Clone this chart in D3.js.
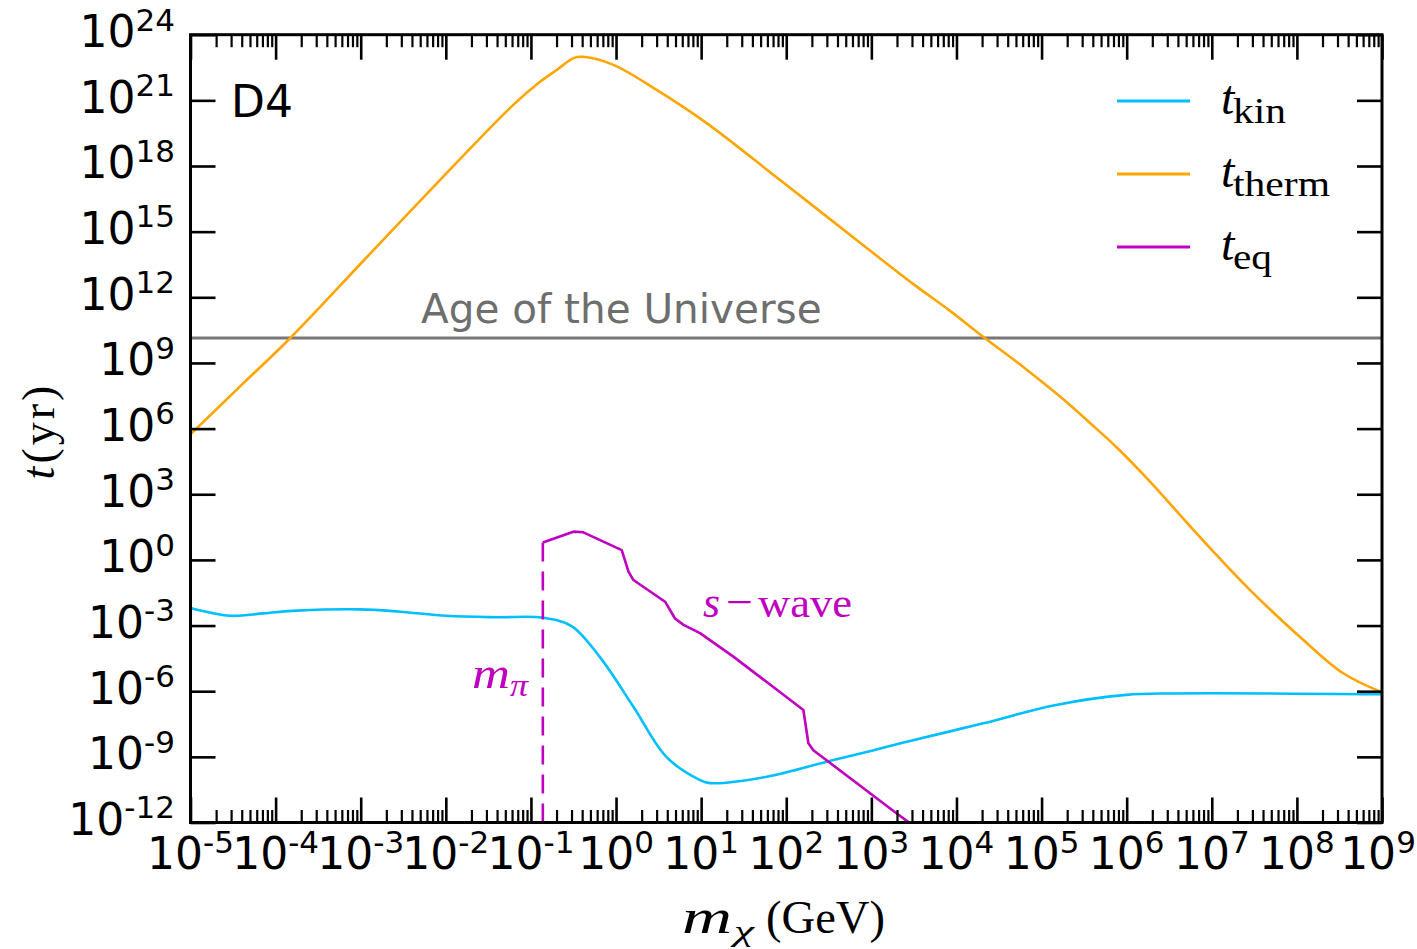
<!DOCTYPE html>
<html><head><meta charset="utf-8">
<script src="https://cdn.jsdelivr.net/npm/d3@7"></script>
<style>body{margin:0;background:#fff} svg{display:block}</style>
</head><body>
<svg id="chart" width="1417" height="949"></svg>
<script>
// ---------------- data ----------------
const xTickExponents = [-5,-4,-3,-2,-1,0,1,2,3,4,5,6,7,8,9];
const yTickExponents = [-12,-9,-6,-3,0,3,6,9,12,15,18,21,24];

const massTherm = [1e-5, 3.8e-5, 1.48e-4, 1.17e-3, 1.02e-2, 0.062, 0.129, 0.201, 0.316, 0.40, 0.93, 3.0, 11.6, 84.5, 883, 3120, 8400, 2.17e4, 6.3e4, 1.65e5, 3.7e5, 7.6e5, 1.88e6, 4.6e6, 1.15e7, 2.8e7, 1.19e8, 3.5e8, 1e9];
const tTherm    = [5.5e5, 8.3e7, 1.35e10, 6.6e13, 4.7e17, 6.2e20, 7.2e21, 2.45e22, 8.5e22, 9.8e22, 4.2e22, 3.0e21, 9.1e19, 2.3e17, 1.8e14, 4.0e12, 2.4e11, 1.35e10, 5.9e8, 2.9e7, 1.82e6, 1.41e5, 3.8e3, 79, 1.6, 0.043, 2.2e-4, 6.6e-6, 8.9e-7];

const massKin = [1e-5, 2.9e-5, 7.2e-5, 1.78e-4, 9.8e-4, 2.9e-3, 1.02e-2, 4.0e-2, 0.135, 0.30, 0.65, 1.6, 3.9, 9.7, 12.7, 59, 300, 1070, 2200, 2.07e4, 1.43e5, 9.8e5, 3.6e6, 1e9];
const tKin    = [6.3e-3, 2.8e-3, 3.6e-3, 4.8e-3, 5.5e-3, 4.3e-3, 2.8e-3, 2.4e-3, 2.3e-3, 9.5e-4, 3.5e-5, 1.95e-7, 1.0e-9, 8.7e-11, 6.3e-11, 1.23e-10, 6.0e-10, 2.0e-9, 4.2e-9, 3.4e-8, 2.3e-7, 6.8e-7, 7.9e-7, 7.2e-7];

const massEq = [0.138, 0.315, 0.413, 1.167, 1.4, 1.6, 3.77, 4.93, 6.2, 9.7, 23.9, 159, 182, 208, 1990, 2880];
const tEq    = [6.2, 19.5, 18.2, 2.8, 0.29, 0.12, 1.23e-2, 2.1e-3, 1.07e-3, 4.5e-4, 3.8e-5, 1.38e-7, 4.2e-9, 2.0e-9, 2.6e-12, 8.9e-13];

const mPion = 0.138;         // GeV, dashed threshold
const ageUniverse = 1.38e10; // yr

const seriesNames = ["kin", "therm", "eq"];
const seriesColors = ["#00bfff", "#ffa500", "#bf00bf"];

// ---------------- layout ----------------
const svg = d3.select("#chart");
const L = 190.5, R = 1382, T = 34.7, B = 822.5;
const x = d3.scaleLog().domain([1e-5, 1e9]).range([L, R]);
const y = d3.scaleLog().domain([1e-12, 1e24]).range([B, T]);

svg.append("rect").attr("width",1417).attr("height",949).attr("fill","#fff");

svg.append("defs").append("clipPath").attr("id","clip")
  .append("rect").attr("x",L).attr("y",T).attr("width",R-L).attr("height",B-T);

const plot = svg.append("g").attr("clip-path","url(#clip)");

// Age of the universe
plot.append("line")
  .attr("x1", x(1e-5)).attr("x2", x(1e9))
  .attr("y1", y(ageUniverse)).attr("y2", y(ageUniverse))
  .attr("stroke", "#777").attr("stroke-width", 3);

const zip = (a,b) => a.map((v,i)=>[v,b[i]]);
const smooth = d3.line().x(d=>x(d[0])).y(d=>y(d[1])).curve(d3.curveCatmullRom.alpha(0.5));
const straight = d3.line().x(d=>x(d[0])).y(d=>y(d[1]));

plot.append("path").datum(zip(massTherm,tTherm)).attr("d",smooth)
  .attr("fill","none").attr("stroke",seriesColors[1]).attr("stroke-width",2.6);
plot.append("path").datum(zip(massKin,tKin)).attr("d",smooth)
  .attr("fill","none").attr("stroke",seriesColors[0]).attr("stroke-width",2.6);
plot.append("path").datum(zip(massEq,tEq)).attr("d",straight)
  .attr("fill","none").attr("stroke",seriesColors[2]).attr("stroke-width",2.6)
  .attr("stroke-linejoin","round");

// pion threshold dashed
plot.append("line")
  .attr("x1", x(mPion)).attr("x2", x(mPion))
  .attr("y1", y(1e-12)).attr("y2", y(tEq[0]))
  .attr("stroke", seriesColors[2]).attr("stroke-width", 2.6)
  .attr("stroke-dasharray", "19,10");

// ---------------- axes ----------------
const majorX = xTickExponents.map(e => Math.pow(10, e));
const minorX = [];
xTickExponents.slice(0,-1).forEach(e => { for (let k=2;k<10;k++) minorX.push(k*Math.pow(10,e)); });
const majorY = yTickExponents.map(e => Math.pow(10, e));

function styleAxis(g, w){
  g.select(".domain").remove();
  g.selectAll(".tick line").attr("stroke","#000").attr("stroke-width", w);
  g.selectAll(".tick text").remove();
}
svg.append("g").attr("transform",`translate(0,${B})`)
  .call(d3.axisBottom(x).tickValues(majorX).tickSize(-25).tickFormat("")).call(g=>styleAxis(g,2.6));
svg.append("g").attr("transform",`translate(0,${B})`)
  .call(d3.axisBottom(x).tickValues(minorX).tickSize(-12.5).tickFormat("")).call(g=>styleAxis(g,2.2));
svg.append("g").attr("transform",`translate(0,${T})`)
  .call(d3.axisTop(x).tickValues(majorX).tickSize(-25).tickFormat("")).call(g=>styleAxis(g,2.6));
svg.append("g").attr("transform",`translate(0,${T})`)
  .call(d3.axisTop(x).tickValues(minorX).tickSize(-12.5).tickFormat("")).call(g=>styleAxis(g,2.2));
svg.append("g").attr("transform",`translate(${L},0)`)
  .call(d3.axisLeft(y).tickValues(majorY).tickSize(-25).tickFormat("")).call(g=>styleAxis(g,2.6));
svg.append("g").attr("transform",`translate(${R},0)`)
  .call(d3.axisRight(y).tickValues(majorY).tickSize(-25).tickFormat("")).call(g=>styleAxis(g,2.6));

// frame
svg.append("rect").attr("x",L).attr("y",T).attr("width",R-L).attr("height",B-T)
  .attr("fill","none").attr("stroke","#000").attr("stroke-width",3);

// tick labels
const sans = "'DejaVu Sans', sans-serif";
function powLabel(xp, yp, e, anchor){
  const t = svg.append("text").attr("x",xp).attr("y",yp).attr("text-anchor",anchor)
    .attr("font-family",sans).attr("font-size",44).attr("fill","#000");
  t.append("tspan").text("10");
  t.append("tspan").attr("dy",-16.5).attr("font-size",31).text(String(e));
}
xTickExponents.forEach((e,i)=> powLabel(Math.min(x(majorX[i]), 1378), 869, e, "middle"));
yTickExponents.forEach((e,i)=> powLabel(175, y(majorY[i]) + 12.3, e, "end"));

// panel label
svg.append("text").attr("x",231).attr("y",116.7).attr("font-family",sans)
  .attr("font-size",44).text("D4");

// age label
svg.append("text").attr("x",421).attr("y",322.7).attr("font-family",sans)
  .attr("font-size",40.5).attr("fill","#6e6e6e").text("Age of the Universe");

// serif text helper (positions the pieces of the LaTeX-like labels)
const serif = "'Liberation Serif', 'Times New Roman', serif";
function piece(txt, xp, yp, size, width, italic, color){
  const t = svg.append("text").attr("x",xp).attr("y",yp).attr("font-family",serif)
    .attr("font-size",size).attr("fill",color||"#000").text(txt);
  if (italic) t.attr("font-style","italic");
  if (width) t.attr("textLength",width).attr("lengthAdjust","spacingAndGlyphs");
  return t;
}

// s-wave
piece("s", 703, 617, 44, 17, true, seriesColors[2]);
piece("\u2212", 726, 617, 44, 27, false, seriesColors[2]);
piece("wave", 758, 617, 43, 94, false, seriesColors[2]);
// m_pi
piece("m", 472, 688, 44, 38, true, seriesColors[2]);
piece("\u03c0", 510, 696, 32, 18, true, seriesColors[2]);

// legend
const legendRows = [101, 174, 247];
const legendSubWidths = [53, 97, 39];
seriesNames.forEach((name,i)=>{
  svg.append("line").attr("x1",1117).attr("x2",1190)
    .attr("y1",legendRows[i]).attr("y2",legendRows[i])
    .attr("stroke",seriesColors[i]).attr("stroke-width",3);
  piece("t", 1221, legendRows[i]+13, 48, null, true);
  piece(name, 1233, legendRows[i]+22, 35, legendSubWidths[i], false);
});

// axis labels
{
  const t = svg.append("text").attr("transform","translate(54,431) rotate(-90)")
    .attr("text-anchor","middle").attr("font-family",serif).attr("font-size",46)
    .attr("letter-spacing",3);
  t.append("tspan").attr("font-style","italic").text("t");
  t.append("tspan").text("(yr)");
}
piece("m", 682, 933, 48, 50, true);
piece("\u03c7", 734, 941, 30, 20, true);
piece("(GeV)", 766, 933, 47, 119, false);
</script>
</body></html>
